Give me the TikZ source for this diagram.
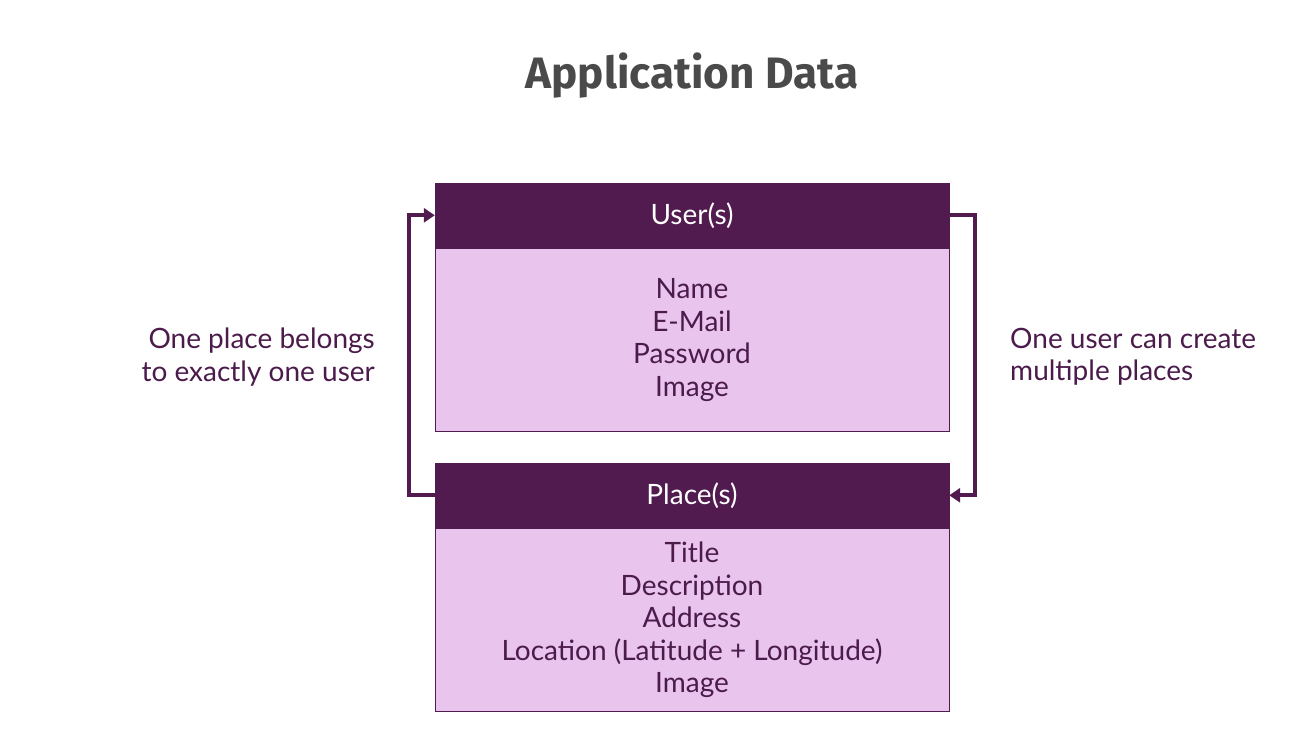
\documentclass[tikz,border=0pt]{standalone}
\usepackage{fontspec}
\setmainfont{Lato}
\newfontfamily\titlefont{Fira Sans}
\usetikzlibrary{arrows.meta,positioning}
\definecolor{darkplum}{HTML}{521B4F}
\definecolor{lightplum}{HTML}{E9C4EC}
\definecolor{plumtext}{HTML}{4B1B4B}
\definecolor{titlegrey}{HTML}{4A4A4A}
\tikzset{
  header/.style={draw=darkplum, fill=darkplum, text=white, minimum width=514pt, minimum height=65pt, inner sep=0pt, font=\fontsize{28}{32}\selectfont},
  fields/.style={draw=darkplum, line width=1pt, fill=lightplum, text=plumtext, minimum width=514pt, minimum height=183pt, inner sep=0pt, align=center, font=\fontsize{28}{32.5}\selectfont},
  note/.style={text=plumtext, inner sep=0pt, font=\fontsize{28}{32.5}\selectfont},
  link/.style={draw=darkplum, line width=4pt, -{Triangle[length=11pt,width=14pt]}}
}
\begin{document}
\begin{tikzpicture}[x=1pt,y=-1pt]
		% the canvas
			\useasboundingbox (0,0) rectangle (1315,744);
			\node[text=titlegrey, font=\titlefont\bfseries\fontsize{44}{50}\selectfont] (title) at (692,76) {Application Data};

		% the two tables
			\node[fields, anchor=north] (userbody) at (692,248) {Name\\E-Mail\\Password\\Image};
			\node[header, anchor=south] (user) at (userbody.north) {User(s)};
			\node[fields, anchor=north] (placebody) at (692,528) {Title\\Description\\Address\\Location (Latitude + Longitude)\\Image};
			\node[header, anchor=south] (place) at (placebody.north) {Place(s)};

		% the links between them
			\draw[link] (place.west) -- ++(-26,0) |- (user.west);
			\draw[link] (user.east) -- ++(26,0) |- (place.east);
			\node[note, align=right, anchor=east] (belongs) at (375,357) {One place belongs\\to exactly one user};
			\node[note, align=left, anchor=west] (creates) at (1010,357) {One user can create\\multiple places};
	\end{tikzpicture}
\end{document}
